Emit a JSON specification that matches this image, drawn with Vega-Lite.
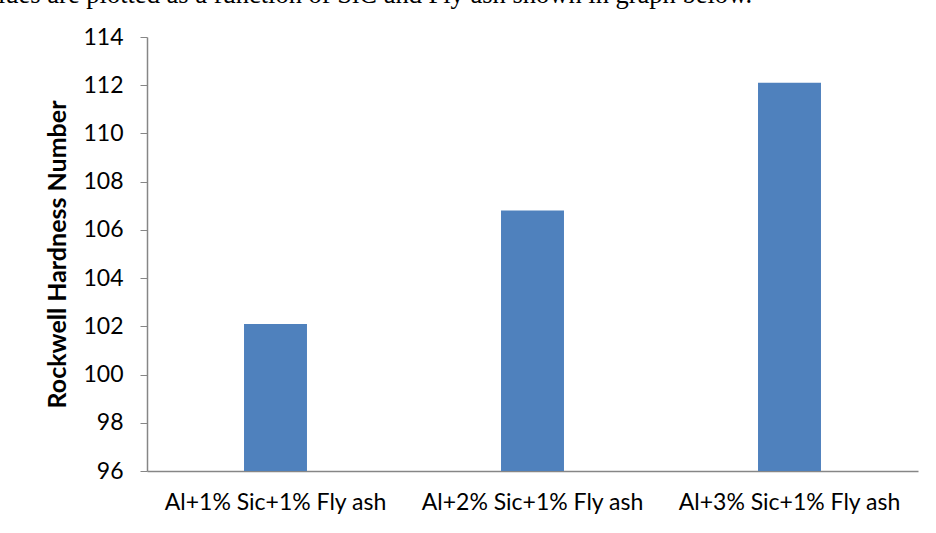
{
  "$schema": "https://vega.github.io/schema/vega-lite/v6.json",
  "autosize": "none",
  "width": 771,
  "height": 434,
  "padding": {"left": 147, "top": 37, "right": 18, "bottom": 62},
  "background": "white",
  "title": {
    "text": "lues are plotted as a function of SiC and Fly ash shown in graph below.",
    "anchor": "start",
    "frame": "group",
    "font": "Liberation Serif",
    "fontSize": 26.5,
    "fontWeight": "normal",
    "color": "black",
    "baseline": "alphabetic",
    "dx": -149,
    "dy": 6,
    "offset": 3
  },
  "data": {
    "values": [
      {"composite": "Al+1% Sic+1% Fly ash", "hardness": 102.1},
      {"composite": "Al+2% Sic+1% Fly ash", "hardness": 106.8},
      {"composite": "Al+3% Sic+1% Fly ash", "hardness": 112.1}
    ]
  },
  "mark": {"type": "bar", "color": "#4F81BD", "clip": true},
  "encoding": {
    "x": {
      "field": "composite",
      "type": "nominal",
      "sort": null,
      "scale": {"paddingInner": 0.755, "paddingOuter": 0.3775},
      "axis": {
        "title": null,
        "labelAngle": 0,
        "labelFont": "Lato",
        "labelFontSize": 23,
        "labelColor": "black",
        "labelPadding": 20,
        "labelLimit": 0,
        "ticks": false,
        "domainColor": "#868686",
        "domainWidth": 1.5,
        "grid": false
      }
    },
    "y": {
      "field": "hardness",
      "type": "quantitative",
      "scale": {"domain": [96, 114], "zero": false, "nice": false},
      "axis": {
        "title": "Rockwell Hardness Number",
        "titleFont": "Lato",
        "titleFontSize": 25,
        "titleFontWeight": "bold",
        "titleColor": "black",
        "titlePadding": 12,
        "values": [96, 98, 100, 102, 104, 106, 108, 110, 112, 114],
        "labelFont": "Lato",
        "labelFontSize": 23,
        "labelColor": "black",
        "labelPadding": 17,
        "tickSize": 7,
        "tickColor": "#868686",
        "domainColor": "#868686",
        "domainWidth": 1.5,
        "grid": false
      }
    }
  },
  "config": {"view": {"stroke": null}}
}
